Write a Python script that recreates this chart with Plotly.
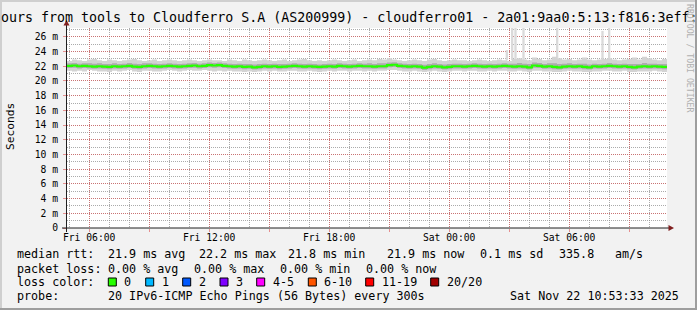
import plotly.graph_objects as go
import pandas as pd

# ---------------- data ----------------
start_time = "2025-11-21 04:53:33"
end_time = "2025-11-22 10:53:33"
bin_minutes = 15

median_rtt = [22.05, 22.1, 22.0, 22.05, 22.0, 21.95, 22.0, 21.95, 21.9, 22.0,
              21.95, 22.0, 22.05, 21.95, 21.9, 22.0, 22.05, 22.0, 21.95, 22.0,
              22.05, 22.0, 21.95, 22.0, 22.05, 22.1, 22.0, 22.05, 22.15, 22.1,
              22.15, 22.05, 22.0, 21.95, 22.0, 21.9, 21.95, 21.85, 21.9, 22.0,
              21.95, 22.0, 21.9, 21.95, 22.0, 22.05, 22.0, 21.95, 22.0, 21.95,
              21.9, 21.95, 22.0, 21.95, 22.05, 22.0, 21.95, 22.0, 22.05, 22.0,
              22.0, 21.95, 22.0, 22.0, 22.15, 22.2, 22.05, 22.0, 21.95, 22.0,
              21.95, 21.8, 21.9, 22.0, 21.95, 21.85, 21.9, 22.0, 22.0, 21.95,
              22.0, 22.05, 22.0, 21.95, 22.0, 21.95, 22.0, 22.05, 22.0, 21.95,
              22.0, 21.95, 21.85, 22.1, 22.05, 21.95, 22.0, 21.9, 21.85, 21.95,
              22.0, 21.95, 22.0, 21.9, 21.85, 22.0, 21.95, 22.0, 22.05, 22.0,
              21.95, 22.0, 21.9, 21.85, 21.95, 22.0, 21.95, 22.0, 21.95, 21.9]

smoke_outer_low = [21.4, 21.3, 21.4, 21.3, 21.5, 21.4, 21.3, 21.3, 21.2, 21.4,
                   21.3, 21.4, 21.5, 21.3, 21.2, 21.4, 21.4, 21.3, 21.3, 21.4,
                   21.5, 21.4, 21.3, 21.4, 21.5, 21.4, 21.4, 21.5, 21.4, 21.3,
                   21.4, 21.3, 21.4, 21.3, 21.3, 21.2, 21.3, 21.2, 21.3, 21.4,
                   21.3, 21.4, 21.3, 21.3, 21.4, 21.4, 21.3, 21.3, 21.4, 21.3,
                   21.2, 21.3, 21.4, 21.3, 21.4, 21.4, 21.3, 21.4, 21.4, 21.3,
                   21.4, 21.3, 21.4, 21.4, 21.5, 21.5, 21.4, 21.3, 21.3, 21.4,
                   21.3, 21.2, 21.3, 21.4, 21.3, 21.2, 21.3, 21.4, 21.4, 21.3,
                   21.4, 21.4, 21.3, 21.3, 21.4, 21.3, 21.4, 21.4, 21.3, 21.3,
                   21.4, 21.3, 21.2, 21.4, 21.4, 21.3, 21.3, 21.2, 21.2, 21.3,
                   21.4, 21.3, 21.3, 21.2, 21.2, 21.3, 21.3, 21.4, 21.4, 21.3,
                   21.3, 21.4, 21.2, 21.2, 21.3, 21.3, 21.3, 21.4, 21.3, 21.2]

smoke_inner_low = [21.75, 21.8, 21.7, 21.75, 21.7, 21.65, 21.7, 21.65, 21.6, 21.7,
                   21.65, 21.7, 21.75, 21.65, 21.6, 21.7, 21.75, 21.7, 21.65, 21.7,
                   21.75, 21.7, 21.65, 21.7, 21.75, 21.8, 21.7, 21.75, 21.85, 21.8,
                   21.85, 21.75, 21.7, 21.65, 21.7, 21.6, 21.65, 21.55, 21.6, 21.7,
                   21.65, 21.7, 21.6, 21.65, 21.7, 21.75, 21.7, 21.65, 21.7, 21.65,
                   21.6, 21.65, 21.7, 21.65, 21.75, 21.7, 21.65, 21.7, 21.75, 21.7,
                   21.7, 21.65, 21.7, 21.7, 21.85, 21.9, 21.75, 21.7, 21.65, 21.7,
                   21.65, 21.5, 21.6, 21.7, 21.65, 21.55, 21.6, 21.7, 21.7, 21.65,
                   21.7, 21.75, 21.7, 21.65, 21.7, 21.65, 21.7, 21.75, 21.7, 21.65,
                   21.7, 21.65, 21.55, 21.8, 21.75, 21.65, 21.7, 21.6, 21.55, 21.65,
                   21.7, 21.65, 21.7, 21.6, 21.55, 21.7, 21.65, 21.7, 21.75, 21.7,
                   21.65, 21.7, 21.6, 21.55, 21.65, 21.7, 21.65, 21.7, 21.65, 21.6]

smoke_inner_high = [22.4, 22.45, 22.35, 22.4, 22.4, 22.35, 22.4, 22.3, 22.3, 22.4,
                    22.3, 22.35, 22.45, 22.35, 22.3, 22.4, 22.4, 22.35, 22.3, 22.35,
                    22.4, 22.35, 22.3, 22.35, 22.4, 22.45, 22.35, 22.4, 22.5, 22.45,
                    22.5, 22.4, 22.35, 22.3, 22.35, 22.3, 22.3, 22.25, 22.3, 22.35,
                    22.3, 22.35, 22.3, 22.3, 22.35, 22.4, 22.35, 22.3, 22.35, 22.3,
                    22.25, 22.3, 22.35, 22.3, 22.4, 22.35, 22.3, 22.35, 22.4, 22.35,
                    22.4, 22.3, 22.4, 22.4, 22.5, 22.55, 22.4, 22.35, 22.3, 22.35,
                    22.3, 22.2, 22.3, 22.4, 22.3, 22.25, 22.3, 22.35, 22.35, 22.3,
                    22.35, 22.4, 22.35, 22.3, 22.35, 22.3, 22.35, 22.4, 22.35, 22.35,
                    22.45, 22.35, 22.3, 22.5, 22.45, 22.3, 22.4, 22.4, 22.3, 22.35,
                    22.4, 22.3, 22.35, 22.35, 22.25, 22.35, 22.3, 22.35, 22.45, 22.35,
                    22.3, 22.35, 22.3, 22.3, 22.3, 22.45, 22.35, 22.35, 22.3, 22.3]

smoke_outer_high = [22.7, 22.9, 22.8, 22.7, 22.9, 23.0, 22.8, 22.7, 22.9, 22.8,
                    22.7, 22.8, 22.9, 23.0, 22.8, 22.7, 22.8, 22.9, 22.7, 22.8,
                    22.9, 22.8, 22.7, 22.8, 22.9, 22.8, 22.7, 22.8, 22.9, 22.8,
                    22.8, 22.7, 22.9, 22.8, 22.7, 22.9, 22.8, 22.7, 22.8, 22.9,
                    22.8, 22.7, 22.8, 22.9, 22.7, 22.8, 22.9, 23.0, 22.8, 22.7,
                    22.8, 22.7, 22.8, 22.9, 22.8, 22.7, 22.8, 22.9, 22.7, 22.8,
                    22.9, 22.8, 23.0, 22.9, 23.1, 22.9, 22.8, 22.7, 22.8, 22.9,
                    22.8, 22.7, 22.9, 23.0, 22.8, 22.7, 22.8, 22.9, 22.8, 22.8,
                    22.7, 22.8, 22.9, 22.8, 22.7, 22.8, 22.9, 22.8, 22.7, 23.0,
                    23.1, 22.9, 22.8, 23.2, 23.0, 22.8, 22.9, 23.3, 23.1, 22.9,
                    23.0, 22.8, 22.9, 23.2, 22.9, 22.8, 22.9, 23.0, 23.1, 22.9,
                    22.8, 22.9, 23.0, 23.2, 22.9, 23.3, 23.1, 22.9, 22.8, 23.0]

spike_times = ["2025-11-22 02:53", "2025-11-22 03:09", "2025-11-22 03:19",
               "2025-11-22 03:43", "2025-11-22 05:24", "2025-11-22 07:40",
               "2025-11-22 08:00"]
spike_base = [22.8, 22.8, 22.8, 22.8, 22.8, 22.8, 22.8]
spike_top = [24.2, 28.0, 28.0, 28.0, 28.0, 26.8, 28.0]

x_tick_times = ["2025-11-21 06:00", "2025-11-21 09:00", "2025-11-21 12:00",
                "2025-11-21 15:00", "2025-11-21 18:00", "2025-11-21 21:00",
                "2025-11-22 00:00", "2025-11-22 03:00", "2025-11-22 06:00",
                "2025-11-22 09:00"]
x_tick_labels = ["Fri 06:00", "", "Fri 12:00", "", "Fri 18:00", "",
                 "Sat 00:00", "", "Sat 06:00", ""]
y_tick_values = [0, 2, 4, 6, 8, 10, 12, 14, 16, 18, 20, 22, 24, 26]
y_tick_labels = ["0", "2 m", "4 m", "6 m", "8 m", "10 m", "12 m", "14 m",
                 "16 m", "18 m", "20 m", "22 m", "24 m", "26 m"]
y_max = 27.2

title_text = "ours from tools to Cloudferro S.A (AS200999) - cloudferro01 - 2a01:9aa0:5:13:f816:3eff:"
loss_labels = ["0", "1", "2", "3", "4-5", "6-10", "11-19", "20/20"]
loss_colors = ["#26ff00", "#00b8ff", "#0059ff", "#7e00ff", "#ff00ff",
               "#ff5500", "#ff0000", "#a10000"]

# ---------------- geometry ----------------
W_FIG, H_FIG = 697, 310
L, T, PW, PH = 67, 28, 600, 200
MONO = "DejaVu Sans Mono"


def px(x):
    return (x - L) / PW


def py(y):
    return (T + PH - y) / PH


def step(v):
    return list(v) + [v[-1]]


times = pd.date_range(pd.Timestamp(start_time), periods=len(median_rtt) + 1,
                      freq=f"{bin_minutes}min")

fig = go.Figure()

fig.add_trace(go.Bar(
    x=pd.to_datetime(spike_times), y=[t - b for t, b in zip(spike_top, spike_base)],
    base=spike_base, width=[7 * 60 * 1000] * len(spike_times),
    marker=dict(color="#dadada", line=dict(width=0)), hoverinfo="skip"))

fig.add_trace(go.Scatter(x=times, y=step(smoke_outer_low), mode="lines",
                         line=dict(width=0, shape="hv"), hoverinfo="skip"))
fig.add_trace(go.Scatter(x=times, y=step(smoke_outer_high), mode="lines",
                         line=dict(width=0, shape="hv"), fill="tonexty",
                         fillcolor="#d3d3d3", hoverinfo="skip"))
fig.add_trace(go.Scatter(x=times, y=step(smoke_inner_low), mode="lines",
                         line=dict(width=0, shape="hv"), hoverinfo="skip"))
fig.add_trace(go.Scatter(x=times, y=step(smoke_inner_high), mode="lines",
                         line=dict(width=0, shape="hv"), fill="tonexty",
                         fillcolor="#adadad", hoverinfo="skip"))
fig.add_trace(go.Scatter(x=times, y=step(median_rtt), mode="lines",
                         line=dict(width=2.2, shape="hv", color=loss_colors[0]),
                         hoverinfo="skip"))

GRID = "rgba(143,143,143,0.75)"
MGRID = "rgba(222,79,79,0.6)"

fig.update_xaxes(
    type="date", range=[start_time, end_time],
    tickmode="array", tickvals=pd.to_datetime(x_tick_times), ticktext=x_tick_labels,
    showgrid=True, gridcolor=MGRID, griddash="1px,1px", gridwidth=1,
    ticks="outside", ticklen=3, tickcolor=MGRID, tickwidth=1,
    ticklabelstandoff=-3,
    tickfont=dict(family=MONO, size=9.7, color="#000000"),
    minor=dict(dtick=3600000, tick0="2025-11-21 00:00:00", showgrid=True,
               gridcolor=GRID, griddash="1px,1px", gridwidth=1),
    showline=False, zeroline=False, fixedrange=True)

fig.update_yaxes(
    range=[0, y_max], tickmode="array", tickvals=y_tick_values, ticktext=y_tick_labels,
    showgrid=True, gridcolor=MGRID, griddash="1px,1px", gridwidth=1,
    ticks="outside", ticklen=3, tickcolor=MGRID, tickwidth=1,
    ticklabelstandoff=3,
    tickfont=dict(family=MONO, size=9.7, color="#000000"),
    minor=dict(dtick=1, showgrid=True, gridcolor=GRID, griddash="1px,1px", gridwidth=1),
    showline=False, zeroline=False, fixedrange=True)

shapes = []
# frame shading of the canvas
shapes.append(dict(type="rect", xref="paper", yref="paper", x0=px(0), x1=px(W_FIG),
                   y0=py(0), y1=py(2), fillcolor="#cfcfcf", line=dict(width=0), layer="above"))
shapes.append(dict(type="rect", xref="paper", yref="paper", x0=px(0), x1=px(2),
                   y0=py(0), y1=py(H_FIG), fillcolor="#cfcfcf", line=dict(width=0), layer="above"))
shapes.append(dict(type="rect", xref="paper", yref="paper", x0=px(0), x1=px(W_FIG),
                   y0=py(H_FIG - 2), y1=py(H_FIG), fillcolor="#9e9e9e", line=dict(width=0), layer="above"))
shapes.append(dict(type="rect", xref="paper", yref="paper", x0=px(W_FIG - 2), x1=px(W_FIG),
                   y0=py(0), y1=py(H_FIG), fillcolor="#9e9e9e", line=dict(width=0), layer="above"))
# axes with arrows
shapes.append(dict(type="line", xref="paper", yref="paper", x0=px(62), x1=px(669),
                   y0=py(228), y1=py(228), line=dict(color="#1f1f1f", width=1), layer="above"))
shapes.append(dict(type="line", xref="paper", yref="paper", x0=px(66.5), x1=px(66.5),
                   y0=py(232), y1=py(24), line=dict(color="#1f1f1f", width=1), layer="above"))
shapes.append(dict(type="path", xref="paper", yref="paper",
                   path=f"M {px(668.5)},{py(225)} L {px(674)},{py(228)} L {px(668.5)},{py(231)} Z",
                   fillcolor="#801f1f", line=dict(width=0), layer="above"))
shapes.append(dict(type="path", xref="paper", yref="paper",
                   path=f"M {px(63.5)},{py(25.5)} L {px(66.5)},{py(20)} L {px(69.5)},{py(25.5)} Z",
                   fillcolor="#801f1f", line=dict(width=0), layer="above"))

annotations = []


def text(x, y, s, size=11.7, anchor="left", color="#000000", angle=0):
    annotations.append(dict(xref="paper", yref="paper", x=px(x), y=py(y), text=s,
                            showarrow=False, xanchor=anchor, yanchor="middle",
                            borderpad=0, textangle=angle,
                            font=dict(family=MONO, size=size, color=color)))


# title
text(W_FIG / 2, 17.5, title_text, size=13.3, anchor="center")
# y label
text(10, 127, "Seconds", size=11.2, anchor="center", angle=-90)
# rrdtool credit
text(690, 58, "RRDTOOL / TOBI OETIKER", size=8.2, anchor="center", color="#b0b0b0", angle=90)

# legend lines
r1, r2, r3, r4 = 254, 268.5, 282, 296
text(16, r1, "median rtt:")
for xx, s in zip([107.3, 198, 287, 386, 479, 558, 614],
                 ["21.9 ms avg", "22.2 ms max", "21.8 ms min", "21.9 ms now",
                  "0.1 ms sd", "335.8", "am/s"]):
    text(xx, r1, s)
text(16, r2, "packet loss:")
for xx, s in zip([107.3, 193.3, 279.3, 365],
                 ["0.00 % avg", "0.00 % max", "0.00 % min", "0.00 % now"]):
    text(xx, r2, s)
text(16, r3, "loss color:")
box_x = [108.3, 145.7, 182.7, 220, 256.7, 308.3, 365.7, 430.7]
for bx, lab, col in zip(box_x, loss_labels, loss_colors):
    shapes.append(dict(type="rect", xref="paper", yref="paper", x0=px(bx), x1=px(bx + 8),
                       y0=py(r3 - 4), y1=py(r3 + 4), fillcolor=col,
                       line=dict(color="#000000", width=1), layer="above"))
    text(bx + 15, r3, lab)
text(16, r4, "probe:")
text(107.3, r4, "20 IPv6-ICMP Echo Pings (56 Bytes) every 300s")
text(680, r4, "Sat Nov 22 10:53:33 2025", anchor="right")

fig.update_layout(
    width=W_FIG, height=H_FIG, autosize=False,
    margin=dict(l=L, r=W_FIG - L - PW, t=T, b=H_FIG - T - PH, pad=0),
    paper_bgcolor="#f2f2f2", plot_bgcolor="#ffffff",
    showlegend=False, barmode="overlay", hovermode=False,
    shapes=shapes, annotations=annotations,
    font=dict(family=MONO, color="#000000"))

fig.write_html("out.html", config={"displayModeBar": False, "staticPlot": True})
